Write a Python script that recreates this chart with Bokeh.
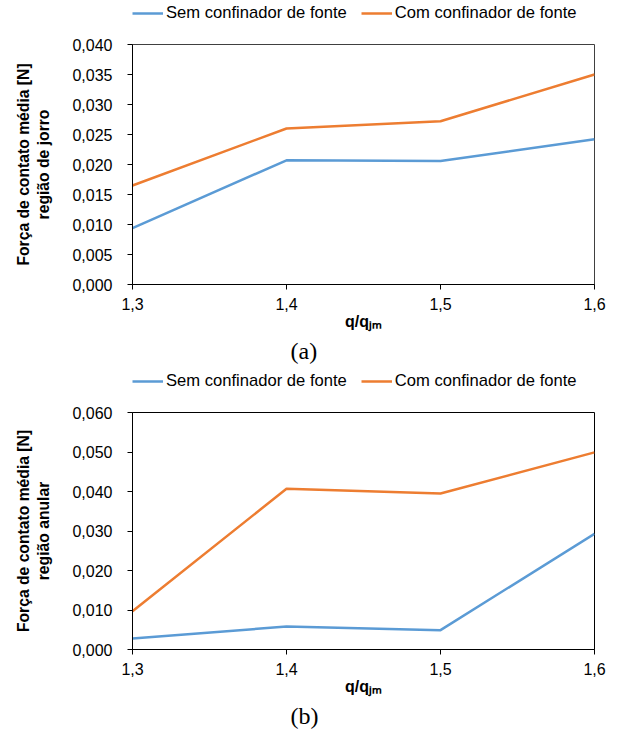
from bokeh.plotting import figure
from bokeh.models import (Legend, LegendItem, FixedTicker, CustomJSTickFormatter,
                          Range1d, Title)
from bokeh.layouts import column
from bokeh.embed import file_html
from bokeh.resources import INLINE

# ---- data ----
q_ratio = [1.3, 1.4, 1.5, 1.6]
jorro_sem = [0.0094, 0.0207, 0.0206, 0.0242]
jorro_com = [0.0165, 0.0260, 0.0272, 0.0350]
anular_sem = [0.0028, 0.0058, 0.0049, 0.0293]
anular_com = [0.0097, 0.0407, 0.0395, 0.0499]

x_ticks = [1.3, 1.4, 1.5, 1.6]
y_ticks_a = [0.0, 0.005, 0.010, 0.015, 0.020, 0.025, 0.030, 0.035, 0.040]
y_ticks_b = [0.0, 0.010, 0.020, 0.030, 0.040, 0.050, 0.060]

series_names = ["Sem confinador de fonte", "Com confinador de fonte"]
series_colors = ["#5B9BD5", "#ED7D31"]
y_titles = ["Força de contato média [N]\nregião de jorro",
            "Força de contato média [N]\nregião anular"]
x_title = "q/qⱼₘ"
captions = ["(a)", "(b)"]

FONT = "Liberation Sans"
SERIF = "Liberation Serif"
W = 612


def make_legend(height, sem, com):
    # legend strip above each chart; its x range (0..1) keeps the
    # series themselves out of view so only the legend is shown
    lg = figure(width=W, height=height, output_backend="svg",
                toolbar_location=None, x_axis_type=None, y_axis_type=None,
                x_range=Range1d(0, 1), y_range=Range1d(0, 1),
                min_border_left=120, min_border_right=0,
                min_border_top=0, min_border_bottom=0)
    lg.outline_line_color = None
    lg.background_fill_color = "white"
    lg.border_fill_color = "white"
    rs = [lg.line(q_ratio, s, line_color=c, line_width=2.5)
          for s, c in zip((sem, com), series_colors)]
    legend = Legend(items=[LegendItem(label=n, renderers=[r])
                           for n, r in zip(series_names, rs)],
                    location="left", orientation="horizontal",
                    label_text_font=FONT, label_text_font_size="16.6px",
                    label_text_color="black",
                    glyph_width=31, glyph_height=16, label_height=16,
                    label_standoff=3, spacing=14, padding=0, margin=0,
                    border_line_alpha=0, background_fill_alpha=0)
    lg.add_layout(legend)
    return lg


def make_panel(sem, com, yticks, ytitle, caption, height, top, bottom, right,
               outline_color):
    p = figure(width=W, height=height, output_backend="svg",
               toolbar_location=None,
               x_range=Range1d(x_ticks[0], x_ticks[-1]),
               y_range=Range1d(yticks[0], yticks[-1]),
               min_border_left=132, min_border_right=right,
               min_border_top=top, min_border_bottom=bottom)
    p.xgrid.visible = False
    p.ygrid.visible = False
    p.outline_line_color = outline_color
    p.outline_line_width = 1
    p.background_fill_color = "white"
    p.border_fill_color = "white"

    p.line(q_ratio, sem, line_color=series_colors[0], line_width=2.5)
    p.line(q_ratio, com, line_color=series_colors[1], line_width=2.5)

    p.xaxis.ticker = FixedTicker(ticks=x_ticks)
    p.yaxis.ticker = FixedTicker(ticks=yticks)
    p.xaxis.formatter = CustomJSTickFormatter(
        code="return tick.toFixed(1).replace('.', ',');")
    p.yaxis.formatter = CustomJSTickFormatter(
        code="return tick.toFixed(3).replace('.', ',');")
    for ax in (p.xaxis, p.yaxis):
        ax.axis_line_color = "black"
        ax.axis_line_width = 1
        ax.major_tick_line_color = "black"
        ax.minor_tick_line_color = None
        ax.major_tick_in = 0
        ax.major_tick_out = 5
        ax.major_label_text_font = FONT
        ax.major_label_text_font_size = "16px"
        ax.major_label_text_color = "black"
        ax.axis_label_text_font = FONT
        ax.axis_label_text_font_size = "16px"
        ax.axis_label_text_font_style = "bold"
        ax.axis_label_text_color = "black"
    p.xaxis.major_label_standoff = 8
    p.yaxis.major_label_standoff = 15

    p.yaxis.axis_label = ytitle
    p.yaxis.axis_label_text_font_size = "15.7px"
    p.yaxis.axis_label_standoff = 17
    p.xaxis.axis_label = x_title
    p.xaxis.axis_label_standoff = 0

    p.add_layout(Title(text=caption, align="left", offset=158,
                       text_font=SERIF, text_font_size="24px",
                       text_font_style="normal", text_color="black",
                       standoff=7), "below")
    return p


leg1 = make_legend(26, jorro_sem, jorro_com)
p1 = make_panel(jorro_sem, jorro_com, y_ticks_a, y_titles[0], captions[0],
                height=342, top=18, bottom=84, right=16,
                outline_color="#404040")
leg2 = make_legend(26, anular_sem, anular_com)
p2 = make_panel(anular_sem, anular_com, y_ticks_b, y_titles[1], captions[1],
                height=339, top=18, bottom=84, right=18,
                outline_color="black")

p = column(leg1, p1, leg2, p2, spacing=0)

open("out.html", "w").write(file_html(p, INLINE))
